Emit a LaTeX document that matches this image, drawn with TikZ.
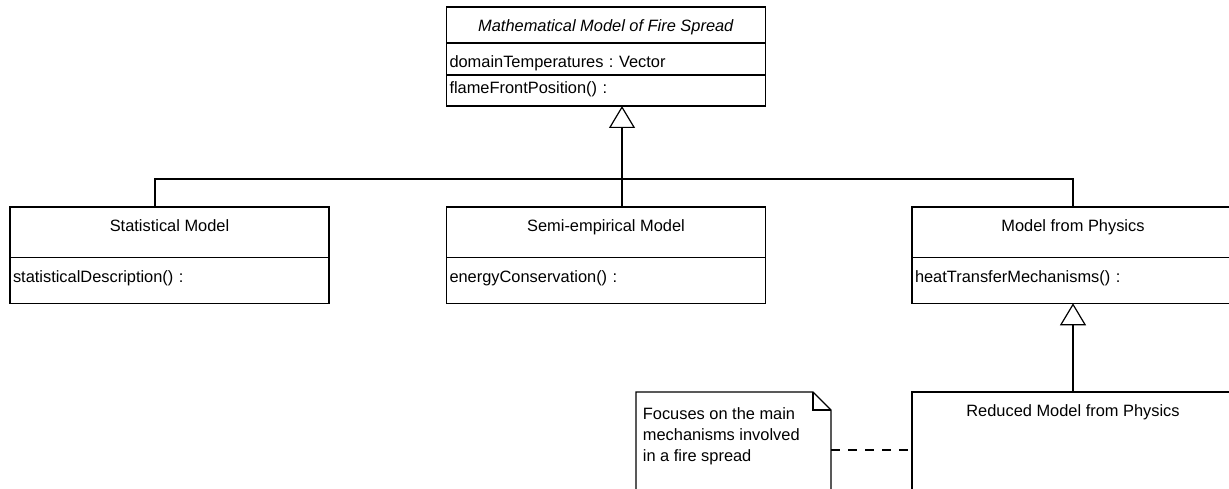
\documentclass[tikz,border=0pt]{standalone}
\usepackage{fontspec}
\setmainfont{Liberation Sans}
\usepackage{tikz}
\usetikzlibrary{positioning, arrows.meta}
\frenchspacing
\newcommand{\umlfont}{\fontsize{16.4pt}{20.8pt}\selectfont}
\tikzstyle{classname} = [rectangle, draw=black, line width=1.2pt, outer sep=0pt, inner sep=0pt, minimum width=319pt, text centered, font=\umlfont]
\tikzstyle{member} = [rectangle, draw=black, line width=1.2pt, outer sep=0pt, inner xsep=3pt, inner ysep=0pt, minimum width=319pt, text width=313pt, align=left, font=\umlfont]
\tikzstyle{notebox} = [rectangle, minimum width=195pt, minimum height=116pt, outer sep=0pt]
\tikzstyle{notetext} = [inner xsep=6.7pt, inner ysep=15.8pt, align=left, font=\umlfont]
\tikzstyle{solidline} = [line width=1.2pt]
\tikzstyle{extends} = [line width=1.2pt, -{Triangle[open, length=22pt, width=26pt]}]
\tikzstyle{anchorline} = [line width=1.2pt, dash pattern=on 9pt off 8pt]

\begin{document}
\begin{tikzpicture}[x=1pt, y=-1pt]
    \useasboundingbox (0,0) rectangle (1229,489);
    \clip (0,0) rectangle (1229,489);

    \node (model) [classname, anchor=north, text height=24.7pt, text depth=11.3pt] at (606,7) {\textit{Mathematical Model of Fire Spread}};
    \node (model-attr) [member, below=0pt of model, text height=24.7pt, text depth=7.3pt] {domainTemperatures : Vector};
    \node (model-ops) [member, below=0pt of model-attr, text height=18.3pt, text depth=12.7pt] {flameFrontPosition() :};

    \node (statistical) [classname, anchor=north, text height=24.7pt, text depth=25.8pt] at (169.5,207) {Statistical Model};
    \node (statistical-ops) [member, below=0pt of statistical, text height=24.5pt, text depth=21.3pt] {statisticalDescription() :};

    \node (semi) [classname, anchor=north, text height=24.7pt, text depth=25.8pt] at (606,207) {Semi-empirical Model};
    \node (semi-ops) [member, below=0pt of semi, text height=24.5pt, text depth=21.3pt] {energyConservation() :};

    \node (physics) [classname, anchor=north, minimum width=322pt, text height=24.7pt, text depth=25.8pt] at (1073,207) {Model from Physics};
    \node (physics-ops) [member, below=0pt of physics, minimum width=322pt, text width=316pt, text height=24.5pt, text depth=21.3pt] {heatTransferMechanisms() :};

    \node (reduced) [classname, anchor=north, minimum width=322pt, text height=24.7pt, text depth=91.3pt] at (1073,392) {Reduced Model from Physics};

    \node (comment) [notebox, anchor=north west] at (636,392) {};
    \node (comment-text) [notetext, anchor=north west] at (comment.north west) {Focuses on the main\\mechanisms involved\\in a fire spread};
    \draw [solidline] (comment.south west) -- (comment.north west) -- ([xshift=-18pt]comment.north east) -- ([yshift=-18pt]comment.north east) -- (comment.south east);
    \draw [solidline] ([xshift=-18pt]comment.north east) |- ([yshift=-18pt]comment.north east);

    \coordinate (fork) at (622,179);
    \draw [extends] ([xshift=16pt]semi.north) -- ([xshift=16pt]model-ops.south);
    \draw [solidline] ([xshift=-14.5pt]statistical.north) |- (fork);
    \draw [solidline] (physics.north) |- (fork);
    \draw [extends] (reduced.north) -- (physics-ops.south);
    \draw [anchorline] (comment.east) -- (reduced.west);
\end{tikzpicture}
\end{document}
